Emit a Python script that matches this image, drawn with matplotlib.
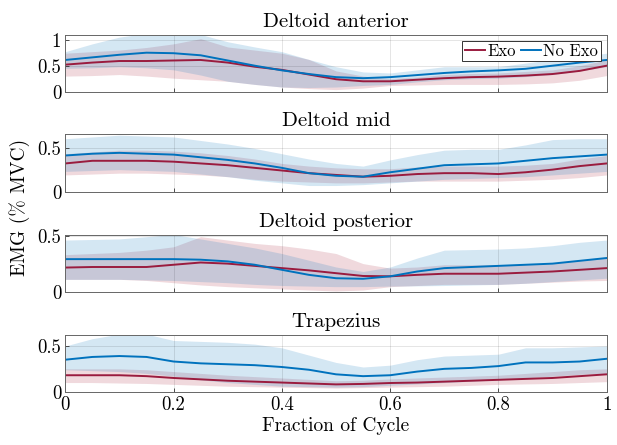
import numpy as np
import matplotlib
matplotlib.use("Agg")
import matplotlib.pyplot as plt

plt.rcParams['font.family'] = ['cmr10', 'DejaVu Serif']
plt.rcParams['mathtext.fontset'] = 'cm'
plt.rcParams['axes.formatter.use_mathtext'] = True

# fraction of cycle
x = np.linspace(0, 1, 21)

titles = ["Deltoid anterior", "Deltoid mid", "Deltoid posterior", "Trapezius"]
ylims = [1.09, 0.65, 0.505, 0.62]
yticks = [[0, 0.5, 1], [0, 0.5], [0, 0.5], [0, 0.5]]
ytick_labels = [["0", "0.5", "1"], ["0", "0.5"], ["0", "0.5"], ["0", "0.5"]]
xticks = [0, 0.2, 0.4, 0.6, 0.8, 1]
xtick_labels = ["0", "0.2", "0.4", "0.6", "0.8", "1"]

# Deltoid anterior
ant_exo = [0.52, 0.56, 0.59, 0.59, 0.60, 0.61, 0.56, 0.48, 0.42, 0.33, 0.24, 0.20, 0.20, 0.23, 0.26, 0.28, 0.29, 0.31, 0.34, 0.40, 0.50]
ant_exo_hi = [0.74, 0.77, 0.80, 0.85, 0.92, 1.02, 0.86, 0.80, 0.74, 0.62, 0.40, 0.30, 0.25, 0.28, 0.33, 0.35, 0.36, 0.39, 0.42, 0.50, 0.61]
ant_exo_lo = [0.30, 0.31, 0.33, 0.30, 0.26, 0.23, 0.20, 0.14, 0.09, 0.06, 0.04, 0.07, 0.12, 0.13, 0.14, 0.14, 0.14, 0.15, 0.17, 0.22, 0.31]
ant_no = [0.61, 0.66, 0.71, 0.75, 0.74, 0.70, 0.60, 0.50, 0.41, 0.34, 0.28, 0.26, 0.28, 0.32, 0.36, 0.39, 0.41, 0.44, 0.50, 0.56, 0.61]
ant_no_hi = [0.77, 0.92, 1.05, 1.12, 1.12, 1.10, 0.96, 0.86, 0.77, 0.62, 0.48, 0.38, 0.36, 0.42, 0.48, 0.48, 0.48, 0.55, 0.62, 0.68, 0.74]
ant_no_lo = [0.45, 0.46, 0.48, 0.46, 0.42, 0.32, 0.20, 0.14, 0.09, 0.08, 0.09, 0.12, 0.14, 0.19, 0.23, 0.25, 0.26, 0.29, 0.33, 0.40, 0.48]

# Deltoid mid
mid_exo = [0.32, 0.35, 0.35, 0.35, 0.34, 0.32, 0.30, 0.27, 0.24, 0.21, 0.19, 0.17, 0.18, 0.20, 0.21, 0.21, 0.20, 0.22, 0.25, 0.29, 0.32]
mid_exo_hi = [0.43, 0.45, 0.47, 0.47, 0.46, 0.44, 0.41, 0.37, 0.32, 0.29, 0.27, 0.26, 0.26, 0.28, 0.29, 0.29, 0.29, 0.30, 0.32, 0.37, 0.41]
mid_exo_lo = [0.19, 0.20, 0.21, 0.21, 0.20, 0.19, 0.17, 0.14, 0.12, 0.11, 0.10, 0.10, 0.11, 0.12, 0.12, 0.12, 0.12, 0.13, 0.14, 0.16, 0.19]
mid_no = [0.41, 0.43, 0.44, 0.43, 0.42, 0.39, 0.36, 0.32, 0.27, 0.21, 0.18, 0.17, 0.22, 0.26, 0.30, 0.31, 0.32, 0.35, 0.38, 0.40, 0.42]
mid_no_hi = [0.60, 0.62, 0.64, 0.63, 0.62, 0.58, 0.54, 0.49, 0.43, 0.37, 0.32, 0.29, 0.36, 0.42, 0.47, 0.48, 0.48, 0.53, 0.59, 0.60, 0.60]
mid_no_lo = [0.23, 0.24, 0.25, 0.24, 0.23, 0.20, 0.17, 0.13, 0.10, 0.07, 0.07, 0.08, 0.10, 0.12, 0.14, 0.15, 0.16, 0.17, 0.19, 0.21, 0.23]

# Deltoid posterior
post_exo = [0.215, 0.22, 0.22, 0.22, 0.24, 0.26, 0.25, 0.23, 0.21, 0.19, 0.165, 0.14, 0.137, 0.15, 0.16, 0.16, 0.16, 0.17, 0.18, 0.195, 0.21]
post_exo_hi = [0.33, 0.34, 0.35, 0.37, 0.40, 0.49, 0.46, 0.43, 0.41, 0.38, 0.34, 0.25, 0.21, 0.22, 0.24, 0.24, 0.24, 0.245, 0.25, 0.28, 0.31]
post_exo_lo = [0.11, 0.11, 0.11, 0.10, 0.08, 0.06, 0.045, 0.035, 0.025, 0.015, 0.006, 0.015, 0.045, 0.055, 0.065, 0.065, 0.065, 0.075, 0.085, 0.095, 0.10]
post_no = [0.29, 0.29, 0.29, 0.29, 0.29, 0.285, 0.27, 0.24, 0.195, 0.15, 0.12, 0.115, 0.137, 0.18, 0.21, 0.22, 0.23, 0.24, 0.25, 0.275, 0.30]
post_no_hi = [0.46, 0.465, 0.47, 0.49, 0.51, 0.47, 0.43, 0.39, 0.34, 0.28, 0.22, 0.18, 0.22, 0.30, 0.37, 0.375, 0.38, 0.39, 0.41, 0.44, 0.46]
post_no_lo = [0.11, 0.11, 0.11, 0.105, 0.10, 0.09, 0.08, 0.065, 0.055, 0.05, 0.045, 0.045, 0.05, 0.052, 0.055, 0.06, 0.065, 0.075, 0.09, 0.105, 0.12]

# Trapezius
trap_exo = [0.18, 0.18, 0.18, 0.17, 0.15, 0.135, 0.12, 0.11, 0.10, 0.09, 0.08, 0.085, 0.095, 0.10, 0.11, 0.12, 0.13, 0.14, 0.15, 0.17, 0.19]
trap_exo_hi = [0.25, 0.25, 0.25, 0.24, 0.22, 0.20, 0.18, 0.165, 0.15, 0.135, 0.12, 0.125, 0.14, 0.15, 0.16, 0.17, 0.18, 0.20, 0.22, 0.24, 0.25]
trap_exo_lo = [0.10, 0.10, 0.095, 0.09, 0.08, 0.07, 0.06, 0.055, 0.05, 0.045, 0.04, 0.045, 0.05, 0.055, 0.06, 0.07, 0.08, 0.085, 0.09, 0.10, 0.11]
trap_no = [0.35, 0.38, 0.39, 0.38, 0.33, 0.31, 0.30, 0.29, 0.27, 0.24, 0.19, 0.17, 0.18, 0.22, 0.25, 0.26, 0.28, 0.32, 0.32, 0.33, 0.36]
trap_no_hi = [0.50, 0.58, 0.63, 0.63, 0.56, 0.55, 0.54, 0.52, 0.48, 0.40, 0.32, 0.27, 0.29, 0.35, 0.39, 0.40, 0.41, 0.48, 0.48, 0.49, 0.50]
trap_no_lo = [0.24, 0.23, 0.22, 0.20, 0.17, 0.13, 0.10, 0.08, 0.06, 0.055, 0.05, 0.055, 0.07, 0.085, 0.10, 0.115, 0.13, 0.15, 0.17, 0.19, 0.20]

exo = [ant_exo, mid_exo, post_exo, trap_exo]
exo_hi = [ant_exo_hi, mid_exo_hi, post_exo_hi, trap_exo_hi]
exo_lo = [ant_exo_lo, mid_exo_lo, post_exo_lo, trap_exo_lo]
no = [ant_no, mid_no, post_no, trap_no]
no_hi = [ant_no_hi, mid_no_hi, post_no_hi, trap_no_hi]
no_lo = [ant_no_lo, mid_no_lo, post_no_lo, trap_no_lo]

c_exo = '#9A1B3E'
c_no = '#0072BD'

fig = plt.figure(figsize=(6.17, 4.45), dpi=100)
W, H = 617, 445
# axes boxes in pixels: (top, bottom)
boxes = [(35, 91.7), (134.3, 191.7), (235, 291.7), (335, 391.7)]
left, right = 65.3, 606.7

for i in range(4):
    top, bot = boxes[i]
    ax = fig.add_axes([left / W, (H - bot) / H, (right - left) / W, (bot - top) / H])
    ax.fill_between(x, exo_lo[i], exo_hi[i], color='#A2142F', alpha=0.16, lw=0)
    ax.fill_between(x, no_lo[i], no_hi[i], color=c_no, alpha=0.17, lw=0)
    ax.plot(x, exo[i], color=c_exo, lw=1.4, label='Exo')
    ax.plot(x, no[i], color=c_no, lw=1.4, label='No Exo')
    ax.set_xlim(0, 1)
    ax.set_ylim(0, ylims[i])
    ax.set_yticks(yticks[i])
    ax.set_yticklabels(ytick_labels[i])
    ax.set_xticks(xticks)
    if i == 3:
        ax.set_xticklabels(xtick_labels)
        ax.set_xlabel('Fraction of Cycle', fontsize=14, labelpad=2)
    else:
        ax.set_xticklabels([])
    ax.set_title(titles[i], fontsize=15, pad=6)
    ax.grid(True, color='#000000', alpha=0.12, lw=0.6)
    ax.tick_params(direction='in', length=3, width=0.6, color='#333333', labelsize=13.5, pad=3)
    for s in ax.spines.values():
        s.set_color('#666666')
        s.set_linewidth(0.7)
    if i == 0:
        leg = ax.legend(loc='upper right', ncol=2, fontsize=12, frameon=True, fancybox=False,
                        handlelength=1.2, handletextpad=0.15, columnspacing=0.3,
                        borderpad=0.15, borderaxespad=0.35)
        leg.get_frame().set_edgecolor('#333333')
        leg.get_frame().set_linewidth(0.7)
        leg.get_frame().set_alpha(1)

fig.text(20 / W, (H - 207) / H, 'EMG (% MVC)', rotation=90, fontsize=14,
         ha='center', va='center')

fig.savefig('out.png', dpi=100)
